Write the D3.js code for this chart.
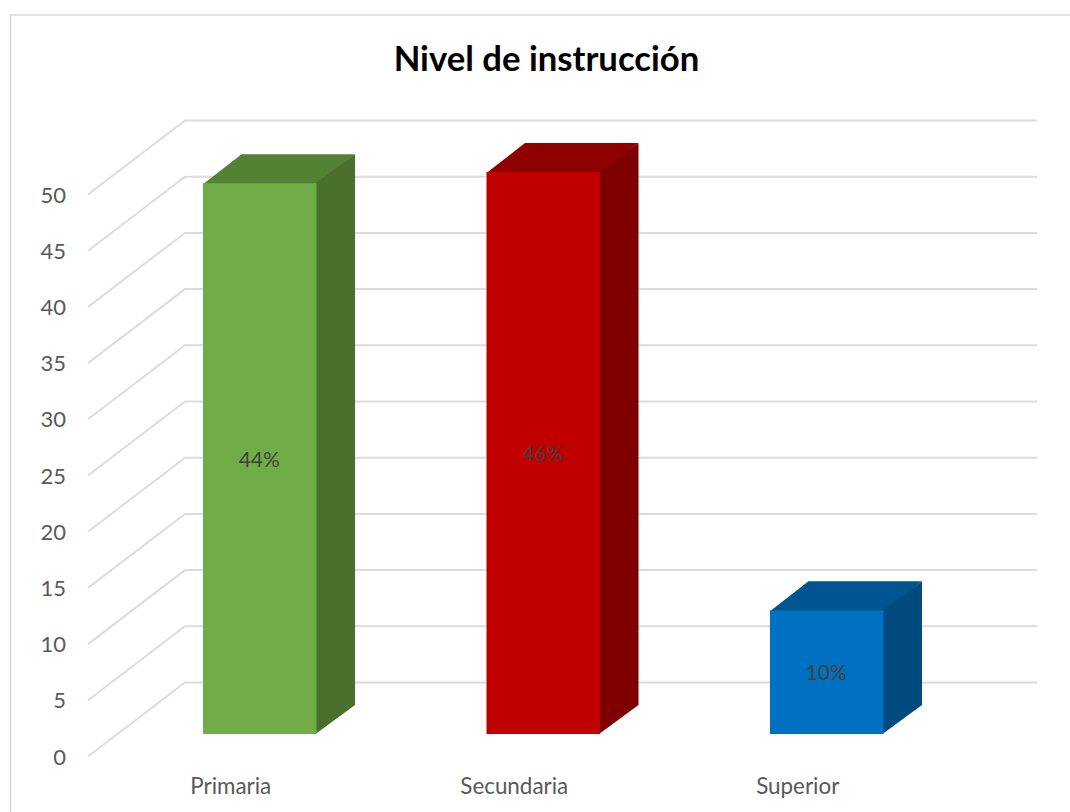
<!DOCTYPE html>
<html><head><meta charset="utf-8">
<script src="https://cdn.jsdelivr.net/npm/d3@7/dist/d3.min.js"></script>
<style>html,body{margin:0;padding:0;background:#fff}svg{display:block}text{font-family:Lato,sans-serif}</style>
</head><body><div id="c"></div>
<script>
const title = "Nivel de instrucción";
const categories = ["Primaria","Secundaria","Superior"];
const values = [49,50,11];
const percentLabels = ["44%","46%","10%"];
const yTicks = [0,5,10,15,20,25,30,35,40,45,50];
const frontColors = ["#70AD47","#C00000","#0070C0"];
const topColors = ["#548235","#900000","#005591"];
const sideColors = ["#4B6F2D","#7F0000","#004A7F"];

const W=1070,H=812;
const svg=d3.select("#c").append("svg").attr("width",W).attr("height",H);
svg.append("path").attr("d","M1070,15H10.5V812").attr("fill","none").attr("stroke","#D9D9D9").attr("stroke-width",1.6);

const yBack=d3.scaleLinear().domain([0,50]).range([682.5,120.5]);
const wallX0=185,wallX1=1037;
const floorDX=-97,floorDY=74;
const barBaseShift=51.5, barDX=38.5, barDY=-29;
const yBar=v=>yBack(v)+barBaseShift;
const x=d3.scaleBand().domain(categories).range([203,883.5]).paddingInner(0.5995).paddingOuter(0);
const bw=x.bandwidth();

const grid=svg.append("g").attr("fill","none").attr("stroke","#DCDCDC").attr("stroke-width",2);
grid.selectAll("path").data(yTicks).join("path")
 .attr("d",t=>`M${wallX0+floorDX},${yBack(t)+floorDY}L${wallX0},${yBack(t)}H${wallX1}`);

const bars=svg.append("g").selectAll("g").data(values).join("g");
bars.each(function(v,i){
  const g=d3.select(this),l=x(categories[i]),r=l+bw,t=yBar(v),b=yBar(0);
  const pts=a=>a.map(p=>p.join(",")).join(" ");
  g.append("polygon").attr("points",pts([[l,t+1],[r,t+1],[r+barDX,t+barDY],[l+barDX,t+barDY]])).attr("fill",topColors[i]);
  g.append("polygon").attr("points",pts([[r-1,t],[r+barDX,t+barDY],[r+barDX,b+barDY],[r-1,b]])).attr("fill",sideColors[i]);
  g.append("rect").attr("x",l).attr("y",t).attr("width",bw).attr("height",b-t).attr("fill",frontColors[i]);
  g.append("text").attr("x",l+bw/2-0.5).attr("y",(t+b)/2+0.5).attr("dy","0.36em").attr("text-anchor","middle")
   .attr("font-size",21).attr("fill","#404040").text(percentLabels[i]);
});

const yAxis=d3.axisLeft(d3.scaleLinear().domain([0,50]).range([757,195])).tickValues(yTicks).tickSize(0).tickPadding(0);
const ya=svg.append("g").attr("transform","translate(66,0)").call(yAxis);
ya.select(".domain").remove();
ya.selectAll("text").attr("font-size",22).attr("fill","#595959").style("font-family","Lato,sans-serif");

svg.append("g").selectAll("text").data(categories).join("text")
 .attr("x",(d,i)=>x(d)+bw/2-29).attr("y",786).attr("dy","0.36em").attr("text-anchor","middle")
 .attr("font-size",22.4).attr("fill","#595959").text(d=>d);

svg.append("text").attr("x",546.5).attr("y",59).attr("dy","0.36em").attr("text-anchor","middle")
 .attr("font-size",34.7).attr("font-weight",700).attr("fill","#000").text(title);
</script></body></html>
